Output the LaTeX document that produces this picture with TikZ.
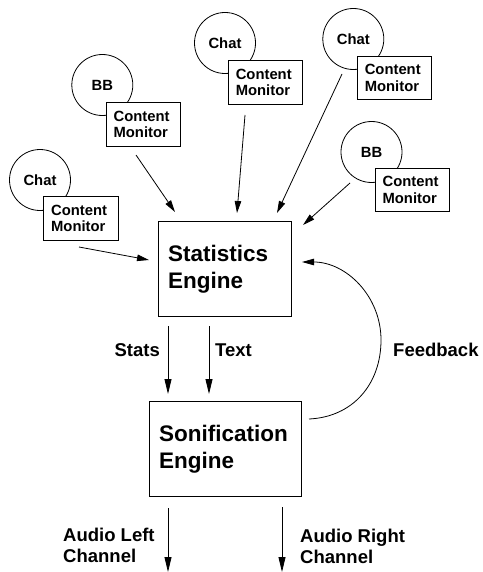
\documentclass[tikz,border=0pt]{standalone}
\usepackage{fontspec}
\setmainfont{Liberation Sans}
\usetikzlibrary{arrows.meta}
\begin{document}
\begin{tikzpicture}[x=1pt,y=-1pt]
\tikzset{
 srcnode/.style={circle, draw, line width=0.8pt, minimum size=61pt, inner sep=0pt, font=\fontsize{14.8}{17}\selectfont\bfseries},
 monbox/.style={draw, fill=white, line width=0.8pt, minimum height=43.3pt, text width=59.4pt, inner xsep=7.5pt, inner ysep=0pt, align=left, font=\fontsize{14.8}{16.7}\selectfont\bfseries},
 enginebox/.style={draw, line width=0.8pt, inner ysep=0pt, align=left, font=\fontsize{22.5}{27}\selectfont\bfseries},
 lbl/.style={inner sep=0pt, font=\fontsize{18.5}{21}\selectfont\bfseries, align=left},
 arr/.style={line width=0.8pt, -{Triangle[length=12pt,width=6.5pt]}},
 varr/.style={line width=0.8pt, -{Triangle[length=15pt,width=7pt]}},
}
\useasboundingbox (0,0) rectangle (482,572);

% sources
\node[srcnode] (c1) at (40,180) {Chat};
\node[srcnode] (c2) at (102.3,85) {BB};
\node[srcnode] (c3) at (225,43) {Chat};
\node[srcnode] (c4) at (353.3,39) {Chat};
\node[srcnode] (c5) at (371.5,152) {BB};

\node[monbox] (m1) at (80.85,218.35) {Content\\Monitor};
\node[monbox] (m2) at (143.3,124.35) {Content\\Monitor};
\node[monbox] (m3) at (265.5,82.35) {Content\\Monitor};
\node[monbox] (m4) at (394.5,77.65) {Content\\Monitor};
\node[monbox] (m5) at (412.3,190.15) {Content\\Monitor};

% engines
\node[enginebox, text width=114pt, inner xsep=9.7pt, minimum height=94.3pt] (stats) at (225,268.85) {Statistics\\Engine};
\node[enginebox, text width=132pt, inner xsep=10pt, minimum height=95pt] (son) at (225,449.2) {Sonification\\Engine};

% monitor arrows
\coordinate (s1) at (79,247);   \coordinate (e1) at (149,260);
\coordinate (s2) at (136,155);  \coordinate (e2) at (175,212);
\coordinate (s3) at (245,115);  \coordinate (e3) at (237,213);
\coordinate (s4) at (342,74);   \coordinate (e4) at (277,213);
\coordinate (s5) at (350,183);  \coordinate (e5) at (303,225);
\draw[arr] (s1) -- (e1);
\draw[arr] (s2) -- (e2);
\draw[arr] (s3) -- (e3);
\draw[arr] (s4) -- (e4);
\draw[arr] (s5) -- (e5);

% stats / text
\coordinate (st1) at (168,326); \coordinate (st2) at (168,394);
\coordinate (tx1) at (209,326); \coordinate (tx2) at (209,394);
\draw[varr] (st1) -- (st2);
\draw[varr] (tx1) -- (tx2);
\node[lbl, anchor=base east] (lstats) at (160,356) {Stats};
\node[lbl, anchor=base west] (ltext) at (215,356) {Text};

% feedback
\coordinate (fb1) at (309,419);
\coordinate (fb2) at (381,340);
\coordinate (fb3) at (302,262);
\draw[arr] (fb1) .. controls (353,417) and (381,384) .. (fb2)
  .. controls (381,296) and (346,262) .. (fb3);
\node[lbl, anchor=base west] (lfb) at (393,356) {Feedback};

% outputs
\coordinate (al1) at (168,508); \coordinate (al2) at (168,572);
\coordinate (ar1) at (282,507); \coordinate (ar2) at (282,572);
\draw[varr] (al1) -- (al2);
\draw[varr] (ar1) -- (ar2);
\node[lbl, anchor=west] (lal) at (63,545.4) {Audio Left\\Channel};
\node[lbl, anchor=west] (lar) at (300,546.1) {Audio Right\\Channel};
\end{tikzpicture}
\end{document}
